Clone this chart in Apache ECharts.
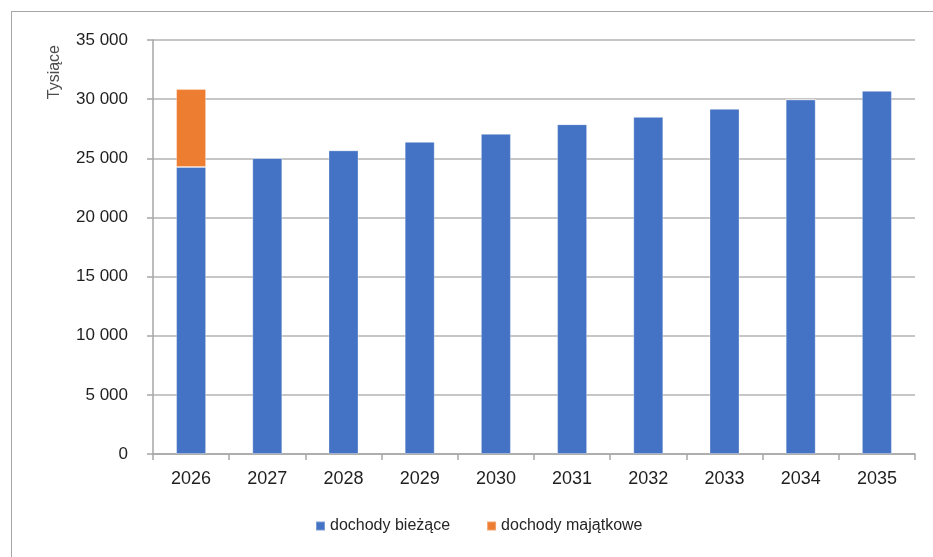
<!DOCTYPE html>
<html>
<head>
<meta charset="utf-8">
<script src="https://cdn.jsdelivr.net/npm/echarts@6/dist/echarts.min.js"></script>
<style>
html,body{margin:0;padding:0;background:#fff;}
#frame{position:absolute;left:11px;top:11px;width:940px;height:560px;border-left:1px solid #a6a6a6;border-top:1px solid #a6a6a6;box-sizing:border-box;pointer-events:none;}
#chart{position:absolute;left:0;top:0;width:933px;height:557px;}
</style>
</head>
<body>
<div id="chart"></div>
<div id="frame"></div>
<script>
const categories = ['2026','2027','2028','2029','2030','2031','2032','2033','2034','2035'];
const biezace = [24260, 25020, 25670, 26400, 27080, 27880, 28510, 29190, 29970, 30710];
const majatkowe = [6590, 0, 0, 0, 0, 0, 0, 0, 0, 0];
const seriesNames = ['dochody bieżące', 'dochody majątkowe'];
const yTicks = [0, 5000, 10000, 15000, 20000, 25000, 30000, 35000];
const yAxisTitle = 'Tysiące';

const FONT = "'Liberation Sans Narrow', 'Liberation Sans', Arial, sans-serif";
const chart = echarts.init(document.getElementById('chart'));
chart.setOption({
  animation: false,
  backgroundColor: '#fff',
  grid: {left: 153, right: 18, top: 40, bottom: 103, containLabel: false},
  legend: {
    data: seriesNames,
    bottom: 18,
    left: 310,
    itemWidth: 9, itemHeight: 9,
    itemGap: 36,
    icon: 'rect',
    textStyle: {fontFamily: FONT, fontSize: 16, color: '#262626'}
  },
  graphic: [{
    type: 'text',
    left: 47, top: 45,
    rotation: Math.PI / 2,
    style: {text: yAxisTitle, fontFamily: FONT, fontSize: 16, fill: '#4d4d4d'}
  }],
  xAxis: {
    type: 'category',
    data: categories,
    axisLine: {lineStyle: {color: '#a6a6a6', width: 1.5}},
    axisTick: {show: true, length: 6, lineStyle: {color: '#a6a6a6', width: 1.5}},
    axisLabel: {fontFamily: FONT, fontSize: 18, color: '#1f1f1f', margin: 16}
  },
  yAxis: {
    type: 'value',
    min: yTicks[0], max: yTicks[yTicks.length - 1], interval: 5000,
    axisLine: {show: true, lineStyle: {color: '#a6a6a6', width: 1.5}},
    axisTick: {show: true, length: 6, lineStyle: {color: '#a6a6a6', width: 1.5}},
    splitLine: {lineStyle: {color: '#b3b3b3', width: 1.5}},
    axisLabel: {
      fontFamily: FONT, fontSize: 17, color: '#1f1f1f', margin: 25,
      formatter: v => String(v).replace(/\B(?=(\d{3})+(?!\d))/g, ' ')
    }
  },
  series: [
    {name: seriesNames[0], type: 'bar', stack: 'a', data: biezace, barWidth: 30,
     itemStyle: {color: '#4472C4', borderColor: 'rgba(255,255,255,0.3)', borderWidth: 1}},
    {name: seriesNames[1], type: 'bar', stack: 'a', data: majatkowe, barWidth: 30,
     itemStyle: {color: '#ED7D31', borderColor: 'rgba(255,255,255,0.3)', borderWidth: 1}}
  ]
});
</script>
</body>
</html>
